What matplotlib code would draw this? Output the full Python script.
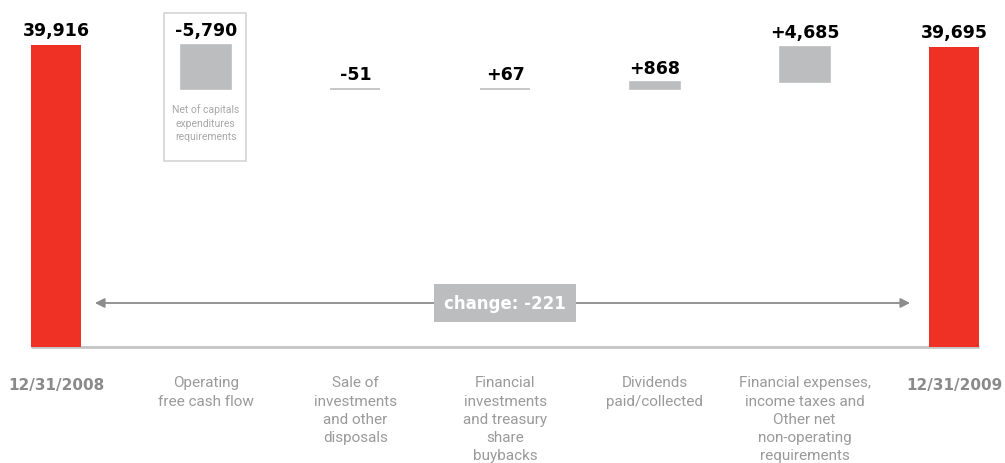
import matplotlib.pyplot as plt
from matplotlib.patches import Rectangle

# net financial debt bridge, 2008 -> 2009
categories = ['12/31/2008', 'Operating\nfree cash flow', 'Sale of\ninvestments\nand other\ndisposals',
              'Financial\ninvestments\nand treasury\nshare\nbuybacks', 'Dividends\npaid/collected',
              'Financial expenses,\nincome taxes and\nOther net\nnon-operating\nrequirements', '12/31/2009']
start_value = 39916
deltas = [-5790, -51, 67, 868, 4685]
end_value = 39695
value_labels = ['39,916', '-5,790', '-51', '+67', '+868', '+4,685', '39,695']
change_label = 'change: -221'
box_note = 'Net of capitals\nexpenditures\nrequirements'

RED = '#ee3124'
GREY = '#bcbdbf'
TEXT_GREY = '#9a9a9a'
NARROW = ['Roboto', 'DejaVu Sans']

fig = plt.figure(figsize=(10.05, 4.64), dpi=100)
ax = fig.add_axes([0, 0, 1, 1])
ax.set_xlim(-0.374, 6.339)
ax.set_ylim(-15332, 45996)
ax.axis('off')

w = 0.334
xs = list(range(len(categories)))

# totals
ax.bar(xs[0], start_value, width=w, color=RED, zorder=3)
ax.bar(xs[-1], end_value, width=w, color=RED, zorder=3)

# floating steps; tiny ones show up as a thin rule thanks to the edge
level = start_value
tops = [start_value]
for i, d in enumerate(deltas, start=1):
    lo, hi = min(level, level + d), max(level, level + d)
    ax.bar(xs[i], hi - lo, bottom=lo, width=w, color=GREY, edgecolor=GREY,
           linewidth=1.2, zorder=3)
    level += d
    tops.append(hi)
tops.append(end_value)

for x, top, lab in zip(xs, tops, value_labels):
    ax.annotate(lab, (x, top), xytext=(0, 4), textcoords='offset points',
                ha='center', va='bottom', fontsize=12.5, fontweight='bold',
                color='black', zorder=4)

# frame around the free cash flow step
ax.add_patch(Rectangle((xs[1] - 0.28, 24600), 0.55, 44200 - 24600, fill=False,
                       edgecolor='#d4d4d4', linewidth=1.2, zorder=2))
ax.text(xs[1], 32200, box_note, ha='center', va='top', fontsize=7.5,
        color='#a8a8a8', family=NARROW, linespacing=1.45)

# baseline
ax.hlines(0, xs[0] - w / 2, xs[-1] + w / 2, color='#c4c4c4', linewidth=2, zorder=2)

# overall change arrow
ax.annotate('', xy=(5.705, 5815), xytext=(0.26, 5815),
            arrowprops=dict(arrowstyle='<|-|>', color='#8c8c8c', lw=1.3,
                            mutation_scale=14, shrinkA=0, shrinkB=0), zorder=2)
ax.text(3.0, 5880, change_label, ha='center', va='center', fontsize=12,
        fontweight='bold', color='white', zorder=4,
        bbox=dict(boxstyle='square,pad=0.6', facecolor=GREY, edgecolor='none'))

# category labels
for i, (x, cat) in enumerate(zip(xs, categories)):
    if i in (0, len(xs) - 1):
        ax.text(x, -3900, cat, ha='center', va='top', fontsize=11,
                fontweight='bold', color='#8a8a8a')
    else:
        ax.text(x, -3750, cat, ha='center', va='top', fontsize=11,
                color=TEXT_GREY, family=NARROW, linespacing=1.38)

fig.savefig('out.png', dpi=100)
